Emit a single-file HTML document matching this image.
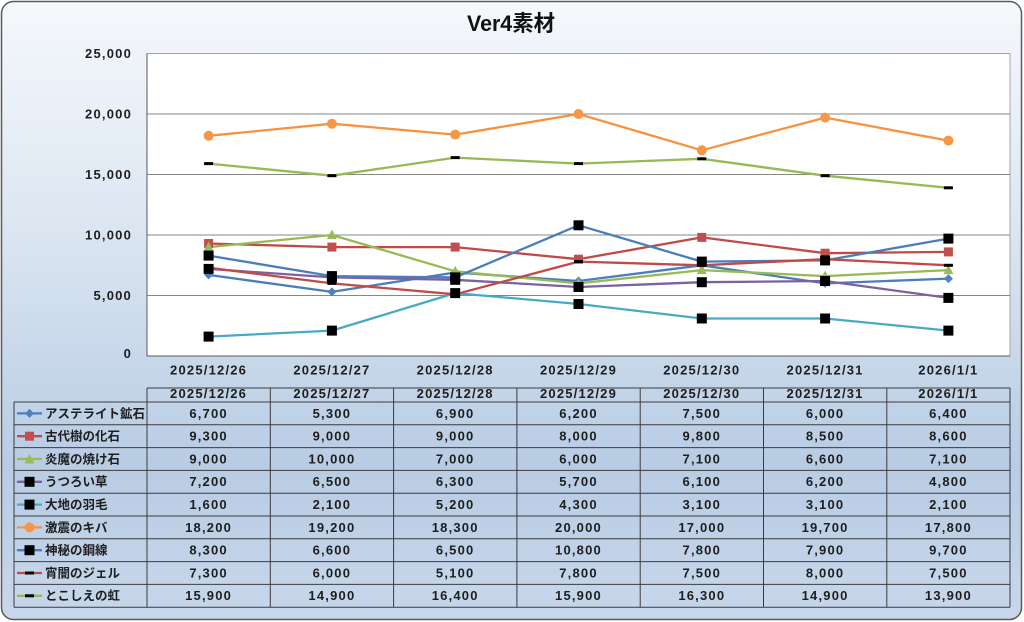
<!DOCTYPE html>
<html><head><meta charset="utf-8"><style>
html,body{margin:0;padding:0;width:1024px;height:622px;overflow:hidden;background:#fff}
svg{display:block}
text{font-family:"Liberation Sans","Noto Sans CJK JP",sans-serif;fill:#1e1e1e}
.n{font-size:13px;font-weight:bold;letter-spacing:1.2px;text-anchor:middle}
.y{font-size:13px;font-weight:bold;letter-spacing:1.2px;text-anchor:end}
.l{font-size:12.5px;font-weight:bold}
</style></head><body>
<svg width="1024" height="622" viewBox="0 0 1024 622" xmlns="http://www.w3.org/2000/svg">
<defs>
<linearGradient id="bg" x1="0" y1="0" x2="0" y2="1">
<stop offset="0" stop-color="#f5f8fc"/><stop offset="0.35" stop-color="#dde7f2"/><stop offset="0.75" stop-color="#b8cce4"/><stop offset="1" stop-color="#c8d7eb"/>
</linearGradient>
<polygon id="dia" points="0,-4.5 4.5,0 0,4.5 -4.5,0" fill="#4f81bd"/>
<rect id="rsq" x="-4.5" y="-4.5" width="9" height="9" fill="#c0504d"/>
<polygon id="tri" points="0,-5.5 5,4 -5,4" fill="#9bbb59"/>
<rect id="bsq" x="-5" y="-5" width="10" height="10" fill="#000"/>
<circle id="cir" r="5" fill="#f79646"/>
<rect id="dash" x="-4.5" y="-1.5" width="9" height="3" fill="#000"/>
</defs>
<rect x="1.5" y="1.5" width="1020" height="618" rx="12" fill="url(#bg)" stroke="#5a5a5a" stroke-width="1.5"/>
<text x="467" y="31" font-size="22" font-weight="bold" textLength="88" lengthAdjust="spacingAndGlyphs" style="fill:#111">Ver4素材</text>
<!-- plot -->
<rect x="147" y="53.5" width="863" height="302.5" fill="#fff" stroke="#a6a6a6" stroke-width="1"/>
<g stroke="#878787" stroke-width="1">
<line x1="147" y1="114" x2="1010" y2="114"/>
<line x1="147" y1="174.5" x2="1010" y2="174.5"/>
<line x1="147" y1="235" x2="1010" y2="235"/>
<line x1="147" y1="295.5" x2="1010" y2="295.5"/>
</g>
<line x1="147" y1="53.5" x2="147" y2="356" stroke="#595959"/>
<line x1="147" y1="356" x2="1010" y2="356" stroke="#595959"/>
<text class="y" x="132" y="58">25,000</text>
<text class="y" x="132" y="118.5">20,000</text>
<text class="y" x="132" y="179">15,000</text>
<text class="y" x="132" y="239.5">10,000</text>
<text class="y" x="132" y="300">5,000</text>
<text class="y" x="132" y="358">0</text>
<g class="n">
<text class="n" x="208.6" y="374.5">2025/12/26</text>
<text class="n" x="331.9" y="374.5">2025/12/27</text>
<text class="n" x="455.2" y="374.5">2025/12/28</text>
<text class="n" x="578.5" y="374.5">2025/12/29</text>
<text class="n" x="701.8" y="374.5">2025/12/30</text>
<text class="n" x="825.1" y="374.5">2025/12/31</text>
<text class="n" x="948.4" y="374.5">2026/1/1</text>
</g>
<!-- series -->
<g fill="none" stroke-width="2.3" stroke-linejoin="round">
<polyline stroke="#4a7ebb" points="208.6,274.9 331.9,291.9 455.2,272.5 578.5,281.0 701.8,265.3 825.1,283.4 948.4,278.6"/>
<polyline stroke="#be4b48" points="208.6,243.5 331.9,247.1 455.2,247.1 578.5,259.2 701.8,237.4 825.1,253.2 948.4,251.9"/>
<polyline stroke="#98b954" points="208.6,247.1 331.9,235.0 455.2,271.3 578.5,283.4 701.8,270.1 825.1,276.1 948.4,270.1"/>
<polyline stroke="#7d60a0" points="208.6,268.9 331.9,277.4 455.2,279.8 578.5,287.0 701.8,282.2 825.1,281.0 948.4,297.9"/>
<polyline stroke="#46aac5" points="208.6,336.6 331.9,330.6 455.2,293.1 578.5,304.0 701.8,318.5 825.1,318.5 948.4,330.6"/>
<polyline stroke="#f69240" points="208.6,135.8 331.9,123.7 455.2,134.6 578.5,114.0 701.8,150.3 825.1,117.6 948.4,140.6"/>
<polyline stroke="#4a7ebb" points="208.6,255.6 331.9,276.1 455.2,277.4 578.5,225.3 701.8,261.6 825.1,260.4 948.4,238.6"/>
<polyline stroke="#be4b48" points="208.6,267.7 331.9,283.4 455.2,294.3 578.5,261.6 701.8,265.3 825.1,259.2 948.4,265.3"/>
<polyline stroke="#98b954" points="208.6,163.6 331.9,175.7 455.2,157.6 578.5,163.6 701.8,158.8 825.1,175.7 948.4,187.8"/>
</g>
<!-- markers -->
<g>
<use href="#dia" x="208.6" y="274.9"/><use href="#dia" x="331.9" y="291.9"/><use href="#dia" x="455.2" y="272.5"/><use href="#dia" x="578.5" y="281.0"/><use href="#dia" x="701.8" y="265.3"/><use href="#dia" x="825.1" y="283.4"/><use href="#dia" x="948.4" y="278.6"/>
<use href="#rsq" x="208.6" y="243.5"/><use href="#rsq" x="331.9" y="247.1"/><use href="#rsq" x="455.2" y="247.1"/><use href="#rsq" x="578.5" y="259.2"/><use href="#rsq" x="701.8" y="237.4"/><use href="#rsq" x="825.1" y="253.2"/><use href="#rsq" x="948.4" y="251.9"/>
<use href="#tri" x="208.6" y="247.1"/><use href="#tri" x="331.9" y="235.0"/><use href="#tri" x="455.2" y="271.3"/><use href="#tri" x="578.5" y="283.4"/><use href="#tri" x="701.8" y="270.1"/><use href="#tri" x="825.1" y="276.1"/><use href="#tri" x="948.4" y="270.1"/>
<use href="#bsq" x="208.6" y="268.9"/><use href="#bsq" x="331.9" y="277.4"/><use href="#bsq" x="455.2" y="279.8"/><use href="#bsq" x="578.5" y="287.0"/><use href="#bsq" x="701.8" y="282.2"/><use href="#bsq" x="825.1" y="281.0"/><use href="#bsq" x="948.4" y="297.9"/>
<use href="#bsq" x="208.6" y="336.6"/><use href="#bsq" x="331.9" y="330.6"/><use href="#bsq" x="455.2" y="293.1"/><use href="#bsq" x="578.5" y="304.0"/><use href="#bsq" x="701.8" y="318.5"/><use href="#bsq" x="825.1" y="318.5"/><use href="#bsq" x="948.4" y="330.6"/>
<use href="#cir" x="208.6" y="135.8"/><use href="#cir" x="331.9" y="123.7"/><use href="#cir" x="455.2" y="134.6"/><use href="#cir" x="578.5" y="114.0"/><use href="#cir" x="701.8" y="150.3"/><use href="#cir" x="825.1" y="117.6"/><use href="#cir" x="948.4" y="140.6"/>
<use href="#bsq" x="208.6" y="255.6"/><use href="#bsq" x="331.9" y="276.1"/><use href="#bsq" x="455.2" y="277.4"/><use href="#bsq" x="578.5" y="225.3"/><use href="#bsq" x="701.8" y="261.6"/><use href="#bsq" x="825.1" y="260.4"/><use href="#bsq" x="948.4" y="238.6"/>
<use href="#dash" x="208.6" y="267.7"/><use href="#dash" x="331.9" y="283.4"/><use href="#dash" x="455.2" y="294.3"/><use href="#dash" x="578.5" y="261.6"/><use href="#dash" x="701.8" y="265.3"/><use href="#dash" x="825.1" y="259.2"/><use href="#dash" x="948.4" y="265.3"/>
<use href="#dash" x="208.6" y="163.6"/><use href="#dash" x="331.9" y="175.7"/><use href="#dash" x="455.2" y="157.6"/><use href="#dash" x="578.5" y="163.6"/><use href="#dash" x="701.8" y="158.8"/><use href="#dash" x="825.1" y="175.7"/><use href="#dash" x="948.4" y="187.8"/>
</g>
<!-- table lines -->
<g stroke="#3c3c3c" stroke-width="1">
<line x1="147" y1="388" x2="1010" y2="388"/>
<line x1="14" y1="402" x2="1010" y2="402"/>
<line x1="14" y1="424.8" x2="1010" y2="424.8"/>
<line x1="14" y1="447.6" x2="1010" y2="447.6"/>
<line x1="14" y1="470.4" x2="1010" y2="470.4"/>
<line x1="14" y1="493.2" x2="1010" y2="493.2"/>
<line x1="14" y1="516" x2="1010" y2="516"/>
<line x1="14" y1="538.8" x2="1010" y2="538.8"/>
<line x1="14" y1="561.6" x2="1010" y2="561.6"/>
<line x1="14" y1="584.4" x2="1010" y2="584.4"/>
<line x1="14" y1="607.2" x2="1010" y2="607.2"/>
<line x1="14" y1="402" x2="14" y2="607.2"/>
<line x1="147" y1="388" x2="147" y2="607.2"/>
<line x1="270.3" y1="388" x2="270.3" y2="607.2"/>
<line x1="393.6" y1="388" x2="393.6" y2="607.2"/>
<line x1="516.9" y1="388" x2="516.9" y2="607.2"/>
<line x1="640.2" y1="388" x2="640.2" y2="607.2"/>
<line x1="763.5" y1="388" x2="763.5" y2="607.2"/>
<line x1="886.8" y1="388" x2="886.8" y2="607.2"/>
<line x1="1010" y1="388" x2="1010" y2="607.2"/>
</g>
<!-- header -->
<text class="n" x="208.6" y="398">2025/12/26</text>
<text class="n" x="331.9" y="398">2025/12/27</text>
<text class="n" x="455.2" y="398">2025/12/28</text>
<text class="n" x="578.5" y="398">2025/12/29</text>
<text class="n" x="701.8" y="398">2025/12/30</text>
<text class="n" x="825.1" y="398">2025/12/31</text>
<text class="n" x="948.4" y="398">2026/1/1</text>
<!-- legend keys -->
<g stroke-width="2.3">
<line x1="17" y1="413.4" x2="42" y2="413.4" stroke="#4a7ebb"/>
<line x1="17" y1="436.2" x2="42" y2="436.2" stroke="#be4b48"/>
<line x1="17" y1="459" x2="42" y2="459" stroke="#98b954"/>
<line x1="17" y1="481.8" x2="42" y2="481.8" stroke="#7d60a0"/>
<line x1="17" y1="504.6" x2="42" y2="504.6" stroke="#46aac5"/>
<line x1="17" y1="527.4" x2="42" y2="527.4" stroke="#f69240"/>
<line x1="17" y1="550.2" x2="42" y2="550.2" stroke="#4a7ebb"/>
<line x1="17" y1="573" x2="42" y2="573" stroke="#be4b48"/>
<line x1="17" y1="595.8" x2="42" y2="595.8" stroke="#98b954"/>
</g>
<use href="#dia" x="29.5" y="413.4"/>
<use href="#rsq" x="29.5" y="436.2"/>
<use href="#tri" x="29.5" y="459.5"/>
<use href="#bsq" x="29.5" y="481.8"/>
<use href="#bsq" x="29.5" y="504.6"/>
<use href="#cir" x="29.5" y="527.4"/>
<use href="#bsq" x="29.5" y="550.2"/>
<use href="#dash" x="29.5" y="573"/>
<use href="#dash" x="29.5" y="595.8"/>
<text class="l" x="45" y="417.8">アステライト鉱石</text>
<text class="l" x="45" y="440.6">古代樹の化石</text>
<text class="l" x="45" y="463.4">炎魔の焼け石</text>
<text class="l" x="45" y="486.2">うつろい草</text>
<text class="l" x="45" y="509">大地の羽毛</text>
<text class="l" x="45" y="531.8">激震のキバ</text>
<text class="l" x="45" y="554.6">神秘の鋼線</text>
<text class="l" x="45" y="577.4">宵闇のジェル</text>
<text class="l" x="45" y="600.2">とこしえの虹</text>
<!-- values -->
<g>
<text class="n" x="208.6" y="417.8">6,700</text><text class="n" x="331.9" y="417.8">5,300</text><text class="n" x="455.2" y="417.8">6,900</text><text class="n" x="578.5" y="417.8">6,200</text><text class="n" x="701.8" y="417.8">7,500</text><text class="n" x="825.1" y="417.8">6,000</text><text class="n" x="948.4" y="417.8">6,400</text>
<text class="n" x="208.6" y="440.6">9,300</text><text class="n" x="331.9" y="440.6">9,000</text><text class="n" x="455.2" y="440.6">9,000</text><text class="n" x="578.5" y="440.6">8,000</text><text class="n" x="701.8" y="440.6">9,800</text><text class="n" x="825.1" y="440.6">8,500</text><text class="n" x="948.4" y="440.6">8,600</text>
<text class="n" x="208.6" y="463.4">9,000</text><text class="n" x="331.9" y="463.4">10,000</text><text class="n" x="455.2" y="463.4">7,000</text><text class="n" x="578.5" y="463.4">6,000</text><text class="n" x="701.8" y="463.4">7,100</text><text class="n" x="825.1" y="463.4">6,600</text><text class="n" x="948.4" y="463.4">7,100</text>
<text class="n" x="208.6" y="486.2">7,200</text><text class="n" x="331.9" y="486.2">6,500</text><text class="n" x="455.2" y="486.2">6,300</text><text class="n" x="578.5" y="486.2">5,700</text><text class="n" x="701.8" y="486.2">6,100</text><text class="n" x="825.1" y="486.2">6,200</text><text class="n" x="948.4" y="486.2">4,800</text>
<text class="n" x="208.6" y="509">1,600</text><text class="n" x="331.9" y="509">2,100</text><text class="n" x="455.2" y="509">5,200</text><text class="n" x="578.5" y="509">4,300</text><text class="n" x="701.8" y="509">3,100</text><text class="n" x="825.1" y="509">3,100</text><text class="n" x="948.4" y="509">2,100</text>
<text class="n" x="208.6" y="531.8">18,200</text><text class="n" x="331.9" y="531.8">19,200</text><text class="n" x="455.2" y="531.8">18,300</text><text class="n" x="578.5" y="531.8">20,000</text><text class="n" x="701.8" y="531.8">17,000</text><text class="n" x="825.1" y="531.8">19,700</text><text class="n" x="948.4" y="531.8">17,800</text>
<text class="n" x="208.6" y="554.6">8,300</text><text class="n" x="331.9" y="554.6">6,600</text><text class="n" x="455.2" y="554.6">6,500</text><text class="n" x="578.5" y="554.6">10,800</text><text class="n" x="701.8" y="554.6">7,800</text><text class="n" x="825.1" y="554.6">7,900</text><text class="n" x="948.4" y="554.6">9,700</text>
<text class="n" x="208.6" y="577.4">7,300</text><text class="n" x="331.9" y="577.4">6,000</text><text class="n" x="455.2" y="577.4">5,100</text><text class="n" x="578.5" y="577.4">7,800</text><text class="n" x="701.8" y="577.4">7,500</text><text class="n" x="825.1" y="577.4">8,000</text><text class="n" x="948.4" y="577.4">7,500</text>
<text class="n" x="208.6" y="600.2">15,900</text><text class="n" x="331.9" y="600.2">14,900</text><text class="n" x="455.2" y="600.2">16,400</text><text class="n" x="578.5" y="600.2">15,900</text><text class="n" x="701.8" y="600.2">16,300</text><text class="n" x="825.1" y="600.2">14,900</text><text class="n" x="948.4" y="600.2">13,900</text>
</g>
</svg>
</body></html>
